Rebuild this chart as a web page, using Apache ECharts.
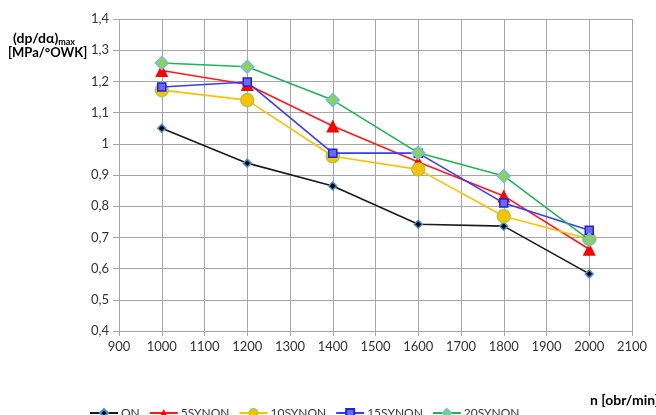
<!DOCTYPE html>
<html>
<head>
<meta charset="utf-8">
<script src="https://cdn.jsdelivr.net/npm/echarts@6/dist/echarts.min.js"></script>
<style>html,body{margin:0;padding:0;background:#fff}#c{width:656px;height:415px}</style>
</head>
<body>
<div id="c"></div>
<script>
// engine speed, rpm
var speeds = [1000, 1200, 1400, 1600, 1800, 2000];
// maximum rate of pressure rise, MPa/°OWK
var seriesNames = ['ON', '5SYNON', '10SYNON', '15SYNON', '20SYNON'];
var valON      = [1.050, 0.938, 0.865, 0.742, 0.736, 0.583];
var val5SYNON  = [1.235, 1.190, 1.057, 0.942, 0.833, 0.662];
var val10SYNON = [1.172, 1.140, 0.960, 0.918, 0.768, 0.695];
var val15SYNON = [1.182, 1.198, 0.970, 0.970, 0.810, 0.723];
var val20SYNON = [1.259, 1.247, 1.140, 0.971, 0.897, 0.692];

function pairs(vals) { return speeds.map(function (x, i) { return [x, vals[i]]; }); }
var FONT = 'Lato, "Open Sans", sans-serif';

var styles = [
  { color: '#1a1a1a', symbol: 'diamond', size: 8,  fill: '#000000', border: '#4a90d9', bw: 1.5 },
  { color: '#ff1a1a', symbol: 'triangle', size: 13, fill: '#ff0000', border: '#ff0000', bw: 0 },
  { color: '#ffc000', symbol: 'circle', size: 13, fill: '#ffc000', border: '#a9c94a', bw: 1.5 },
  { color: '#3a3aff', symbol: 'rect', size: 8, fill: '#6a6af0', border: '#2222d8', bw: 1.5 },
  { color: '#22b35a', symbol: 'diamond', size: 13, fill: '#8fcf5a', border: '#6ec0e0', bw: 1.5 }
];
var allVals = [valON, val5SYNON, val10SYNON, val15SYNON, val20SYNON];

var series = seriesNames.map(function (name, k) {
  var s = styles[k];
  return {
    name: name,
    type: 'line',
    data: pairs(allVals[k]),
    symbol: s.symbol,
    symbolSize: s.size,
    lineStyle: { color: s.color, width: 1.6 },
    itemStyle: { color: s.fill, borderColor: s.border, borderWidth: s.bw },
    z: 2 + k,
    animation: false
  };
});

var chart = echarts.init(document.getElementById('c'));
chart.setOption({
  animation: false,
  textStyle: { fontFamily: FONT },
  grid: { left: 119, right: 24, top: 19, bottom: 84 },
  xAxis: {
    type: 'value', min: 900, max: 2100, interval: 100,
    axisLine: { show: true, lineStyle: { color: '#a6a6a6' } },
    axisTick: { show: true, length: 5, lineStyle: { color: '#a6a6a6' } },
    axisLabel: { color: '#333', fontSize: 13, fontFamily: FONT, margin: 9,
      formatter: function (v) { return String(v); } },
    splitLine: { show: true, lineStyle: { color: '#a6a6a6', width: 1 } }
  },
  yAxis: {
    type: 'value', min: 0.4, max: 1.4, interval: 0.1,
    axisLine: { show: false },
    axisTick: { show: true, length: 6, lineStyle: { color: '#a6a6a6' } },
    axisLabel: {
      color: '#333', fontSize: 13, fontFamily: FONT, margin: 10,
      formatter: function (v) {
        var r = Math.round(v * 10) / 10;
        return (r === Math.round(r) ? String(r) : r.toFixed(1)).replace('.', ',');
      }
    },
    splitLine: { show: true, lineStyle: { color: '#a6a6a6', width: 1 } }
  },
  legend: {
    data: seriesNames,
    left: 84, top: 402,
    itemWidth: 28, itemHeight: 10, itemGap: 9,
    textStyle: { color: '#333', fontSize: 12, fontFamily: FONT, padding: [0, 0, 0, -2] }
  },
  graphic: [
    {
      type: 'text', left: 13, top: 31,
      style: {
        text: '{a|(dp/dα)}{s|max}',
        rich: {
          a: { fontSize: 14, fontWeight: 'bold', fill: '#000', fontFamily: FONT },
          s: { fontSize: 9, fontWeight: 'bold', fill: '#000', fontFamily: FONT, padding: [8, 0, 0, 0] }
        }
      }
    },
    {
      type: 'text', left: 8, top: 46,
      style: { text: '[MPa/°OWK]', fontSize: 13, fontWeight: 'bold', fill: '#000', fontFamily: FONT }
    },
    {
      type: 'text', left: 590, top: 393,
      style: { text: 'n [obr/min]', fontSize: 14, fontWeight: 'bold', fill: '#000', fontFamily: FONT }
    }
  ],
  series: series
});
</script>
</body>
</html>
